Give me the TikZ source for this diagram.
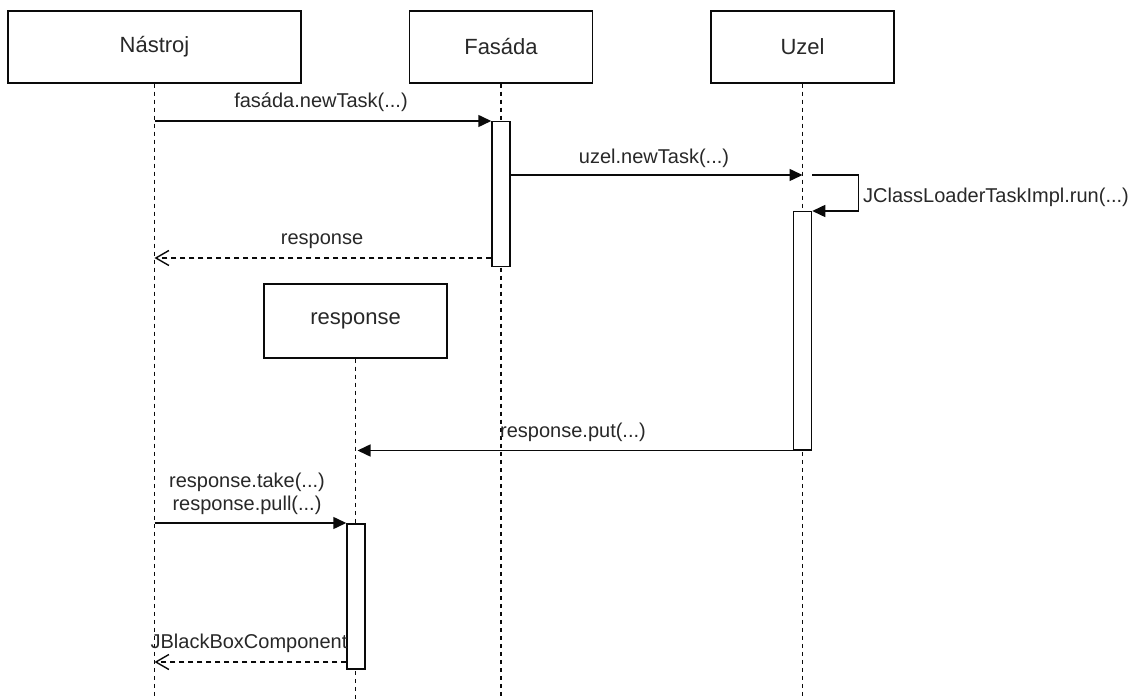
\documentclass[tikz,border=0pt]{standalone}
\usepackage{fontspec}
\setmainfont{Liberation Sans}
\usetikzlibrary{arrows.meta}
\definecolor{txt}{RGB}{40,40,40}
\definecolor{ln}{RGB}{10,10,10}
\begin{document}
\begin{tikzpicture}[x=1pt,y=-1pt,
  box/.style={draw=ln, line width=1.5pt, fill=white, minimum width=183pt, minimum height=72pt, inner sep=0pt, font=\fontsize{22}{26}\selectfont, text=txt},
  act/.style={draw=ln, line width=1.5pt, fill=white, minimum width=18pt, inner sep=0pt, anchor=north},
  life/.style={draw=ln, line width=1.5pt, dash pattern=on 4pt off 4pt},
  msg/.style={draw=ln, line width=1.5pt, -{Triangle[length=13pt,width=12pt]}},
  ret/.style={draw=ln, line width=1.4pt, dash pattern=on 5pt off 4pt, -{Straight Barb[length=13pt,width=15pt]}},
  lbl/.style={font=\fontsize{20}{23}\selectfont, text=txt, inner sep=0pt}]
\useasboundingbox (0,0) rectangle (1143,700);
\fill[white] (0,0) rectangle (1143,700);

% participants
\node[box, minimum width=293pt] (nas) at (154.5,47) {Nástroj};
\node[box] (fas) at (501,47) {Fasáda};
\node[box] (uz) at (802.5,47) {Uzel};
\node[box, minimum height=74pt] (resp) at (355.5,321) {response};

% rows
\coordinate (bot) at (0,700);
\coordinate (r2) at (0,175);
\coordinate (r3) at (0,258);
\coordinate (r6) at (0,662);

% lifelines
\draw[life] (nas.south) -- (nas.south |- bot);
\draw[life] (fas.south) -- (fas.south |- bot);
\draw[life] (uz.south) -- (uz.south |- bot);
\draw[life] (resp.south) -- (resp.south |- bot);

% activations
\node[act, minimum height=145pt] (fa) at (501,121) {};
\node[act, minimum height=238pt] (ua) at (802.5,211) {};
\node[act, minimum height=145pt] (ra) at (356,523) {};

% messages
\draw[msg] (nas.south |- fa.north west) -- (fa.north west);
\node[lbl] (l1) at (321,102) {fasáda.newTask(...)};

\draw[msg] (fa.east |- r2) -- (uz.south |- r2);
\node[lbl] (l2) at (654,158) {uzel.newTask(...)};

\draw[msg] (ua.north east |- r2) -- ++(46,0) -- ++(0,36) -- (ua.north east);
\node[lbl, anchor=west] (l3) at (863,197) {JClassLoaderTaskImpl.run(...)};

\draw[ret] (fa.west |- r3) -- (nas.south |- r3);
\node[lbl] (l4) at (322,241) {response};

\draw[msg, shorten >=2pt] (ua.south west) -- (resp.south |- ua.south west);
\node[lbl] (l5) at (573,432) {response.put(...)};

\draw[msg] (nas.south |- ra.north west) -- (ra.north west);
\node[lbl, align=center] (l6) at (247,493.5) {response.take(...)\\response.pull(...)};

\draw[ret] (ra.west |- r6) -- (nas.south |- r6);
\node[lbl] (l7) at (249,643) {JBlackBoxComponent};
\end{tikzpicture}
\end{document}
